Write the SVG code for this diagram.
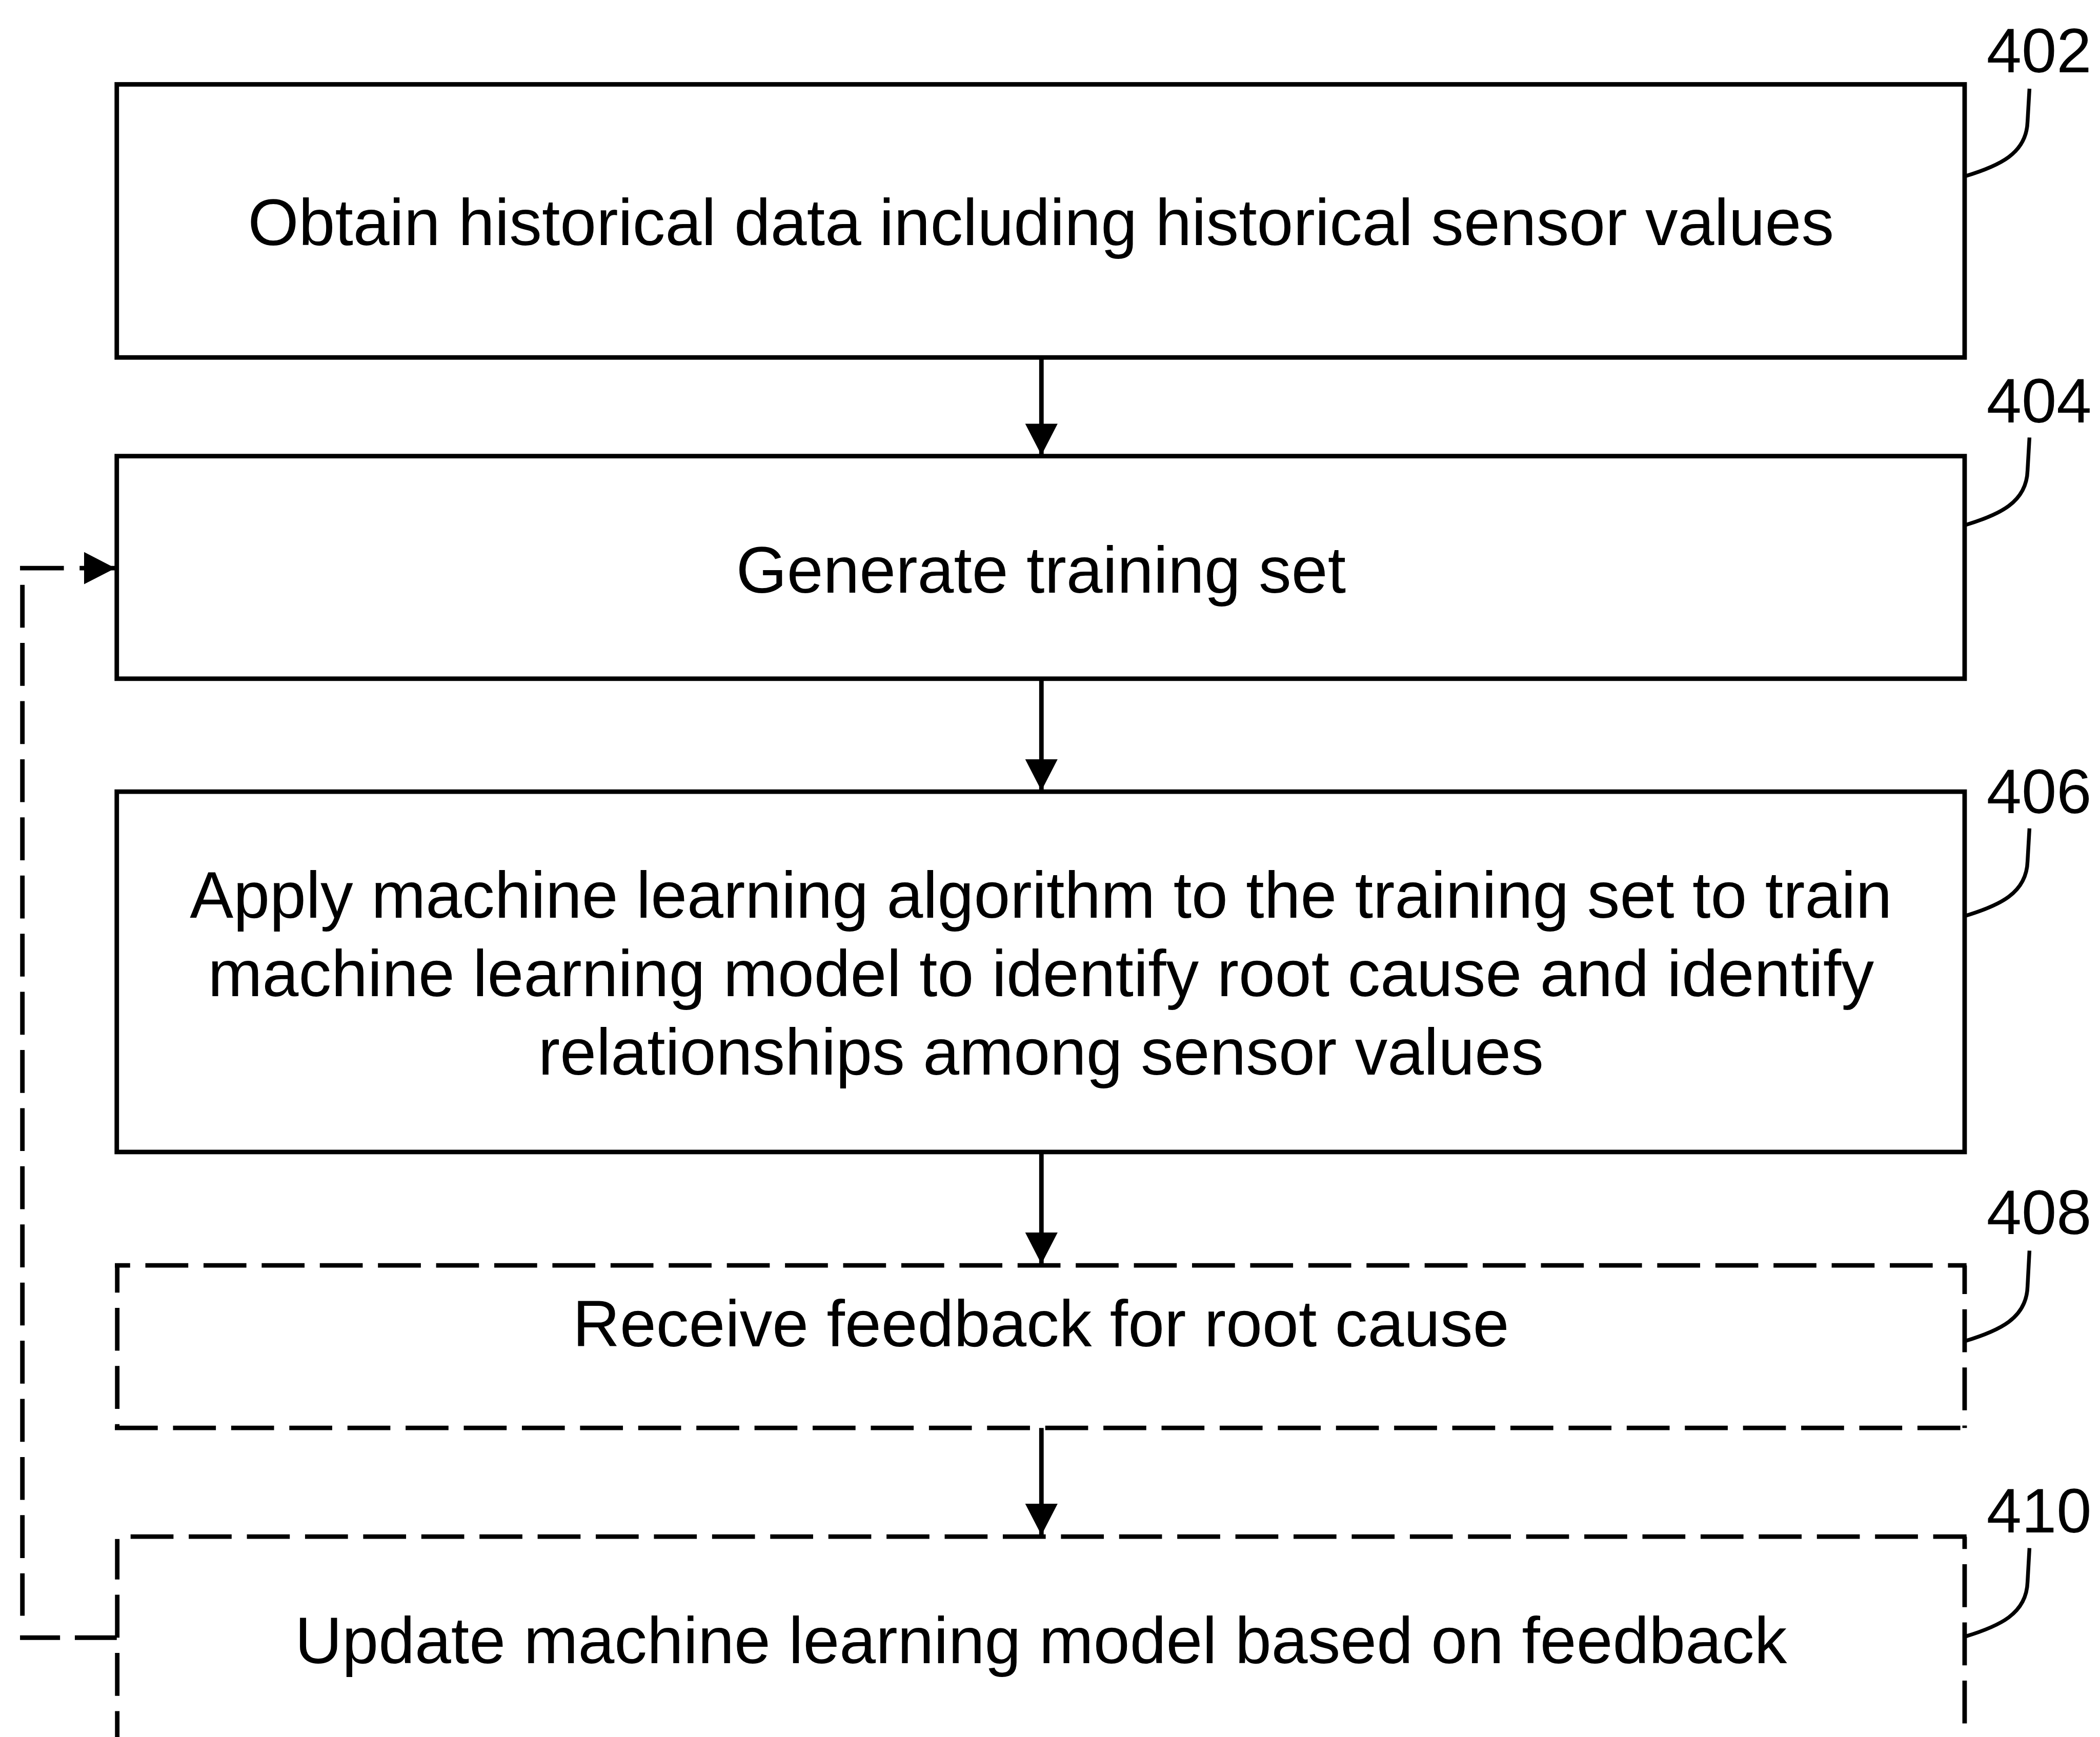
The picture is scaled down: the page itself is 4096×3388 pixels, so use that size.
<svg xmlns="http://www.w3.org/2000/svg" width="4096" height="3388" viewBox="0 0 4096 3388">
<style>
.box{fill:none;stroke:#000;stroke-width:9.5}
.dsh{fill:none;stroke:#000;stroke-width:9.5;stroke-dasharray:90 32}
.txt{font-family:"Liberation Sans",Arial,Helvetica,sans-serif;font-size:137px;fill:#000;text-anchor:middle}
.lbl{font-family:"Liberation Sans",Arial,Helvetica,sans-serif;font-size:132px;fill:#000}
.ldr{fill:none;stroke:#000;stroke-width:8}
.con{fill:none;stroke:#000;stroke-width:9.5}
</style>
<defs>
<marker id="ah" markerUnits="userSpaceOnUse" markerWidth="70" markerHeight="70" refX="66" refY="34" orient="auto" viewBox="0 0 70 70">
<path d="M0,0 L66,34 L0,68 Z" fill="#000"/>
</marker>
</defs>
<rect width="4096" height="3388" fill="#fff"/>
<g transform="scale(0.92964)">
<g id="n402">
<rect class="box" x="245" y="177" width="3877" height="573"/>
<text class="txt" x="2184" y="514">Obtain historical data including historical sensor values</text>
<text class="lbl" x="4168" y="152">402</text>
<path class="ldr" d="M4122,370 C4195,348 4252,322 4254,255 L4258,186"/>
</g>
<g id="n404">
<rect class="box" x="245" y="957" width="3877" height="467"/>
<text class="txt" x="2184" y="1244">Generate training set</text>
<text class="lbl" x="4168" y="886">404</text>
<path class="ldr" d="M4122,1102 C4195,1080 4252,1054 4254,987 L4258,918"/>
</g>
<g id="n406">
<rect class="box" x="245" y="1661" width="3877" height="756"/>
<text class="txt" x="2184" y="1926">Apply machine learning algorithm to the training set to train</text>
<text class="txt" x="2184" y="2090">machine learning model to identify root cause and identify</text>
<text class="txt" x="2184" y="2255">relationships among sensor values</text>
<text class="lbl" x="4168" y="1706">406</text>
<path class="ldr" d="M4122,1922 C4195,1900 4252,1874 4254,1807 L4258,1738"/>
</g>
<g id="n408">
<path class="dsh" d="M241,2655 H4126" stroke-dashoffset="58"/>
<path class="dsh" d="M246,2655 V2996" stroke-dashoffset="33"/>
<path class="dsh" d="M4122,2655 V2996" stroke-dashoffset="30"/>
<path class="dsh" d="M241,2996 H4126"/>
<text class="txt" x="2184" y="2825">Receive feedback for root cause</text>
<text class="lbl" x="4168" y="2589">408</text>
<path class="ldr" d="M4122,2814 C4195,2792 4252,2766 4254,2699 L4258,2624"/>
</g>
<g id="n410">
<path class="dsh" d="M246,3224 H4126" stroke-dashoffset="94"/>
<path class="dsh" d="M246,3229 V3700" stroke-dashoffset="5"/>
<path class="dsh" d="M4122,3224 V3700" stroke-dashoffset="64"/>
<text class="txt" x="2184" y="3490">Update machine learning model based on feedback</text>
<text class="lbl" x="4168" y="3215">410</text>
<path class="ldr" d="M4122,3434 C4195,3412 4252,3386 4254,3319 L4258,3248"/>
</g>
<g id="connectors">
<path class="con" d="M2185,750 V955" marker-end="url(#ah)"/>
<path class="con" d="M2185,1424 V1659" marker-end="url(#ah)"/>
<path class="con" d="M2185,2417 V2652" marker-end="url(#ah)"/>
<path class="con" d="M2185,2996 V3221" marker-end="url(#ah)"/>
<path class="dsh" d="M245,3436 H42" style="stroke-dasharray:88 31"/>
<path class="dsh" d="M47,1227 V3390"/>
<path class="dsh" d="M42,1192 H242" style="stroke-dasharray:92 33" marker-end="url(#ah)"/>
</g>
</g>
</svg>
